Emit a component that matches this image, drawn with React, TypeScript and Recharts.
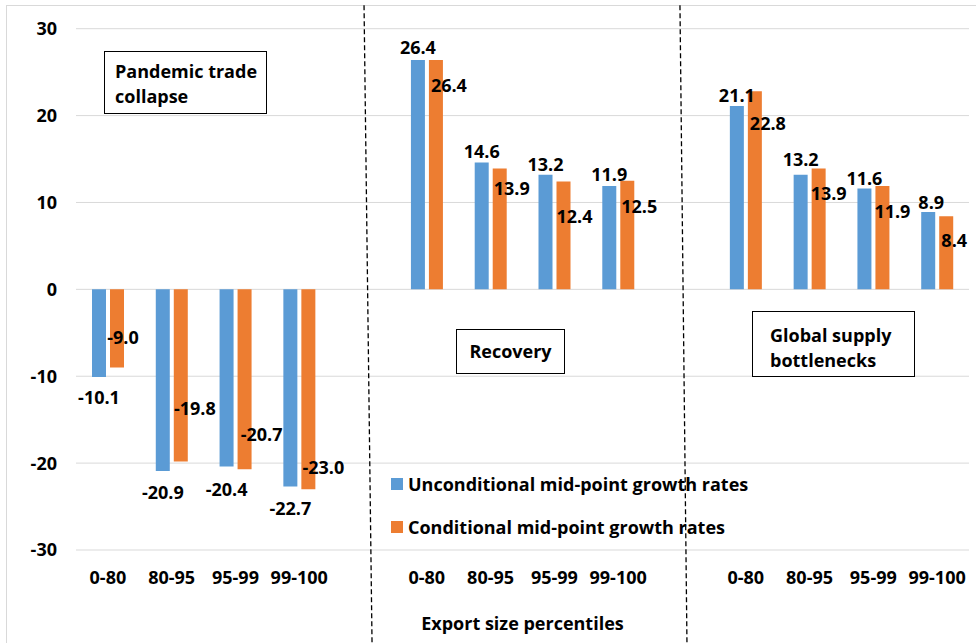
import React from 'react';
import {
  BarChart,
  Bar,
  XAxis,
  YAxis,
  CartesianGrid,
  ReferenceLine,
  Legend,
  LabelList,
} from 'recharts';

// Export growth by firm export-size percentile across three episodes
const periods = ['Pandemic trade collapse', 'Recovery', 'Global supply bottlenecks'];
const percentiles = ['0-80', '80-95', '95-99', '99-100'];

const pandemicUnconditional = [-10.1, -20.9, -20.4, -22.7];
const pandemicConditional = [-9.0, -19.8, -20.7, -23.0];
const recoveryUnconditional = [26.4, 14.6, 13.2, 11.9];
const recoveryConditional = [26.4, 13.9, 12.4, 12.5];
const bottleneckUnconditional = [21.1, 13.2, 11.6, 8.9];
const bottleneckConditional = [22.8, 13.9, 11.9, 8.4];

const yTicks = [-30, -20, -10, 0, 10, 20, 30];

const seriesNames = [
  'Unconditional mid-point growth rates',
  'Conditional mid-point growth rates',
];

// Hand-placed label nudges [dx, dy] in px, measured from the bar's value end
const unconditionalNudge = [
  [[0, 20], [0, 21], [0, 22], [0, 21]],
  [[0, -13], [0, -12], [0, -11], [0, -12]],
  [[0, -11], [0, -16], [0, -11], [3, -10]],
];
const conditionalNudge = [
  [[6, -31], [14, -53], [17, -35], [15, -22]],
  [[13, 25], [12, 19], [11, 34], [12, 25]],
  [[13, 32], [10, 24], [10, 25], [8, 24]],
];

const BLUE = '#5B9BD5';
const ORANGE = '#ED7D31';
const FONT = '"Open Sans", "Noto Sans", sans-serif';

type Row = {
  key: string;
  label: string;
  period: number;
  pct: number;
  u?: number;
  c?: number;
};

const unconditionalByPeriod = [pandemicUnconditional, recoveryUnconditional, bottleneckUnconditional];
const conditionalByPeriod = [pandemicConditional, recoveryConditional, bottleneckConditional];

const rows: Row[] = [];
periods.forEach((_, p) => {
  percentiles.forEach((pct, i) => {
    rows.push({
      key: `p${p}|${pct}`,
      label: pct,
      period: p,
      pct: i,
      u: unconditionalByPeriod[p][i],
      c: conditionalByPeriod[p][i],
    });
  });
  if (p < periods.length - 1) {
    rows.push({ key: `gap-${p}`, label: '', period: p, pct: -1 });
  }
});
const rowByKey = new Map(rows.map((r) => [r.key, r]));

const textStyle = {
  fill: '#000',
  fontSize: 18,
  fontWeight: 700,
  fontFamily: FONT,
};

// The label's value is the row key; the number shown is read back from the row
const makeLabel = (field: 'u' | 'c', nudges: number[][][]) => (props: any) => {
  const row = rowByKey.get(String(props.value));
  if (!row || row.pct < 0) return null;
  const value = row[field];
  if (value == null) return null;
  const vb = props.viewBox ?? props;
  const x = Number(vb.x ?? props.x);
  const y = Number(vb.y ?? props.y);
  const w = Number(vb.width ?? props.width);
  const h = Number(vb.height ?? props.height);
  const end = value >= 0 ? Math.min(y, y + h) : Math.max(y, y + h);
  const [dx, dy] = nudges[row.period][row.pct];
  return (
    <text
      x={x + w / 2 + dx}
      y={end + dy}
      textAnchor="middle"
      dominantBaseline="central"
      {...textStyle}
    >
      {value.toFixed(1)}
    </text>
  );
};

const DashedDivider = ({ x1, y1, x2, y2, lean0, lean1 }: any) => (
  <line
    x1={x1 + lean0}
    y1={y1}
    x2={x2 + lean1}
    y2={y2}
    stroke="#000"
    strokeWidth={1.3}
    strokeDasharray="5 3"
  />
);

const LegendBox = ({ payload }: any) => {
  const items = [...(payload ?? [])].sort(
    (a: any, b: any) => seriesNames.indexOf(a.value) - seriesNames.indexOf(b.value)
  );
  return (
    <div style={{ fontFamily: FONT, fontWeight: 700, fontSize: 18, color: '#000' }}>
      {items.map((entry: any) => (
        <div
          key={entry.value}
          style={{ display: 'flex', alignItems: 'center', height: 43, whiteSpace: 'nowrap' }}
        >
          <span
            style={{
              display: 'inline-block',
              width: 12,
              height: 12,
              background: entry.color,
              marginRight: 5,
            }}
          />
          <span>{entry.value}</span>
        </div>
      ))}
    </div>
  );
};

const boxBase: React.CSSProperties = {
  position: 'absolute',
  boxSizing: 'border-box',
  border: '1.5px solid #000',
  background: '#fff',
  fontFamily: FONT,
  fontWeight: 700,
  fontSize: 18,
  lineHeight: '25px',
  color: '#000',
};

export default function App() {
  return (
    <div
      style={{
        position: 'absolute',
        left: 0,
        top: 0,
        width: 976,
        height: 643,
        overflow: 'hidden',
        background: '#fff',
      }}
    >
      <div
        style={{
          position: 'absolute',
          left: 6,
          top: 5,
          width: 1100,
          height: 800,
          borderLeft: '1px solid #d9d9d9',
          borderTop: '1px solid #d9d9d9',
        }}
      />
      <BarChart
        width={976}
        height={643}
        data={rows}
        margin={{ top: 28.7, right: 7, bottom: 0, left: 0 }}
        barSize={14}
        barGap={4}
      >
        <CartesianGrid vertical={false} stroke="#d9d9d9" />
        <XAxis
          dataKey="key"
          type="category"
          interval={0}
          axisLine={false}
          tickLine={false}
          tickSize={0}
          tickMargin={21}
          height={93}
          tick={textStyle}
          tickFormatter={(v: string) => (v.includes('|') ? v.split('|')[1] : '')}
          label={{
            value: 'Export size percentiles',
            position: 'insideBottom',
            offset: 13,
            style: textStyle,
          }}
        />
        <YAxis
          type="number"
          domain={[-30, 30]}
          ticks={yTicks}
          interval={0}
          axisLine={false}
          tickLine={false}
          tickSize={0}
          tickMargin={19}
          width={76}
          tick={textStyle}
        />
        <Legend
          layout="vertical"
          align="center"
          verticalAlign="middle"
          wrapperStyle={{ left: 391, top: 462, width: 400 }}
          content={<LegendBox />}
        />
        <ReferenceLine
          segment={[
            { x: 'gap-0', y: 32.7 },
            { x: 'gap-0', y: -40.7 },
          ]}
          ifOverflow="visible"
          shape={(p: any) => <DashedDivider {...p} lean0={1} lean1={9} />}
        />
        <ReferenceLine
          segment={[
            { x: 'gap-1', y: 32.7 },
            { x: 'gap-1', y: -40.7 },
          ]}
          ifOverflow="visible"
          shape={(p: any) => <DashedDivider {...p} lean0={-2} lean1={5} />}
        />
        <Bar dataKey="u" name={seriesNames[0]} fill={BLUE} isAnimationActive={false}>
          <LabelList dataKey="key" content={makeLabel('u', unconditionalNudge)} />
        </Bar>
        <Bar dataKey="c" name={seriesNames[1]} fill={ORANGE} isAnimationActive={false}>
          <LabelList dataKey="key" content={makeLabel('c', conditionalNudge)} />
        </Bar>
      </BarChart>

      <div style={{ ...boxBase, left: 104, top: 51, width: 163, height: 63, padding: '7px 0 0 10px' }}>
        Pandemic trade
        <br />
        collapse
      </div>
      <div
        style={{
          ...boxBase,
          left: 456,
          top: 329,
          width: 109,
          height: 45,
          display: 'flex',
          alignItems: 'center',
          justifyContent: 'center',
        }}
      >
        Recovery
      </div>
      <div style={{ ...boxBase, left: 752, top: 311, width: 163, height: 66, padding: '11px 0 0 17px' }}>
        Global supply
        <br />
        bottlenecks
      </div>
    </div>
  );
}
